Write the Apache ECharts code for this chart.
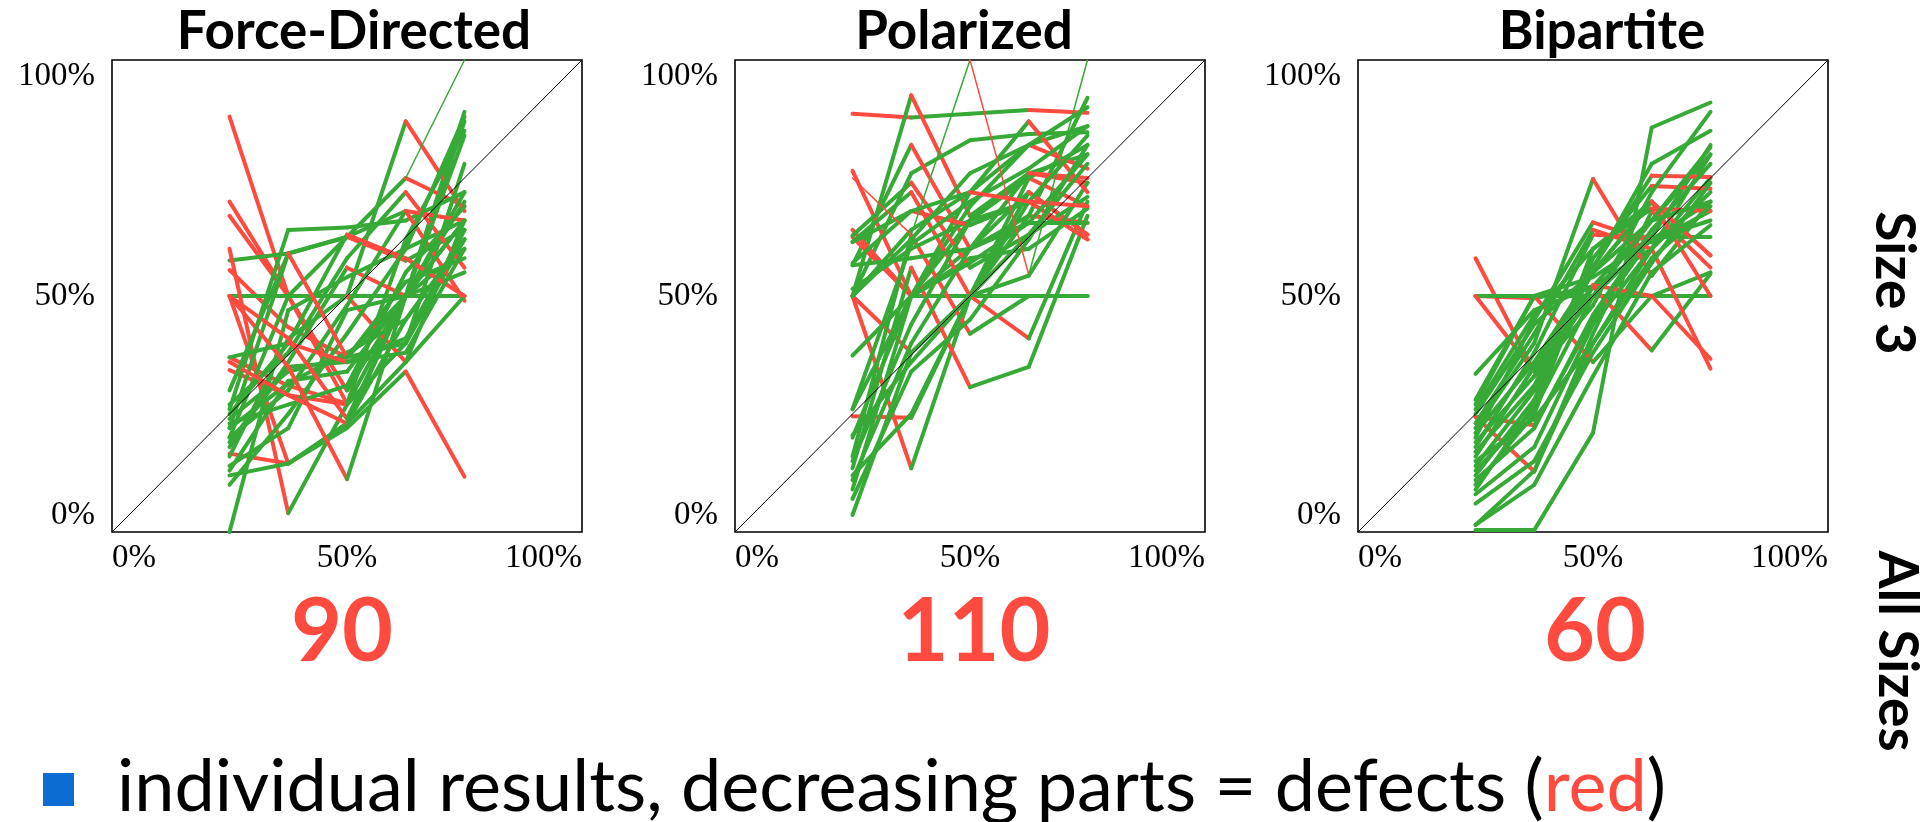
<!DOCTYPE html>
<html><head><meta charset="utf-8">
<script src="https://cdn.jsdelivr.net/npm/echarts@6/dist/echarts.min.js"></script>
<style>html,body{margin:0;padding:0;background:#fff}#c{width:1932px;height:822px}</style>
</head><body><div id="c"></div>
<script>
// ---------- data ----------
const panelTitles = ['Force-Directed', 'Polarized', 'Bipartite'];
const defectCounts = ['90', '110', '60'];
const xPositions = [0.25, 0.375, 0.5, 0.625, 0.75];
const diagonal = [[0, 0], [1, 1]];

// each row = one individual result, y value at the five x positions
const forceDirected = [
  [0.88, 0.50, 0.50, 0.50, 0.50],
  [0.70, 0.50, 0.272, 0.40, 0.62],
  [0.67, 0.50, 0.30, 0.50, 0.89],
  [0.575, 0.59, 0.625, 0.75, 0.69],
  [0.555, 0.434, 0.37, 0.50, 0.70],
  [0.50, 0.50, 0.50, 0.87, 0.68],
  [0.50, 0.145, 0.23, 0.36, 0.66],
  [0.60, 0.04, 0.27, 0.50, 0.60],
  [0.37, 0.31, 0.272, 0.62, 0.85],
  [0.343, 0.29, 0.27, 0.40, 0.78],
  [0.166, 0.145, 0.22, 0.34, 0.117],
  [0.26, 0.64, 0.645, 0.66, 0.72],
  [0.22, 0.59, 0.625, 0.68, 0.49],
  [0.20, 0.50, 0.625, 0.575, 0.64],
  [0.18, 0.36, 0.56, 0.50, 0.55],
  [0.16, 0.41, 0.50, 0.36, 0.50],
  [0.12, 0.145, 0.23, 0.50, 0.87],
  [0.13, 0.32, 0.34, 0.50, 0.72],
  [0.0, 0.47, 0.54, 0.60, 0.66],
  [0.24, 0.34, 0.37, 0.40, 0.64],
  [0.22, 0.315, 0.38, 0.45, 0.62],
  [0.27, 0.38, 0.58, 0.72, 0.56],
  [0.20, 0.30, 0.48, 0.68, 0.66],
  [0.14, 0.22, 0.47, 0.50, 0.84],
  [0.19, 0.35, 0.36, 0.41, 0.64],
  [0.25, 0.40, 0.63, 0.58, 0.50],
  [0.10, 0.25, 0.42, 0.60, 0.88],
  [0.50, 0.41, 0.24, 0.50, 0.66],
  [0.23, 0.27, 0.31, 0.55, 0.69],
  [0.36, 0.29, 0.23, 0.45, 0.62],
  [0.50, 0.35, 0.112, 0.50, 0.66],
  [0.30, 0.59, 0.37, 0.53, 0.58],
  [0.37, 0.40, 0.36, 0.38, 0.60]
];
const forceDirectedThin = [[null, null, null, 0.75, 1.0]];

const polarized = [
  [0.886, 0.878, 0.886, 0.894, 0.888],
  [0.50, 0.925, 0.67, 0.76, 0.80],
  [0.50, 0.76, 0.83, 0.843, 0.847],
  [0.565, 0.82, 0.60, 0.72, 0.63],
  [0.765, 0.50, 0.50, 0.50, 0.50],
  [0.64, 0.50, 0.60, 0.67, 0.655],
  [0.625, 0.50, 0.72, 0.82, 0.77],
  [0.50, 0.38, 0.50, 0.67, 0.92],
  [0.50, 0.135, 0.50, 0.75, 0.69],
  [0.245, 0.242, 0.50, 0.70, 0.62],
  [0.26, 0.50, 0.58, 0.60, 0.685],
  [0.205, 0.36, 0.50, 0.41, 0.70],
  [0.16, 0.628, 0.42, 0.50, 0.50],
  [0.135, 0.56, 0.307, 0.35, 0.67],
  [0.374, 0.50, 0.69, 0.82, 0.86],
  [0.09, 0.50, 0.66, 0.76, 0.74],
  [0.036, 0.38, 0.50, 0.72, 0.63],
  [0.615, 0.72, 0.50, 0.543, 0.74],
  [0.628, 0.74, 0.56, 0.63, 0.71],
  [0.515, 0.60, 0.66, 0.75, 0.82],
  [0.614, 0.68, 0.65, 0.70, 0.62],
  [0.565, 0.58, 0.60, 0.655, 0.655],
  [0.50, 0.64, 0.72, 0.87, 0.72],
  [0.20, 0.50, 0.57, 0.655, 0.80],
  [0.11, 0.40, 0.60, 0.76, 0.75],
  [0.12, 0.25, 0.50, 0.63, 0.78],
  [0.15, 0.44, 0.66, 0.70, 0.84],
  [0.26, 0.61, 0.70, 0.77, 0.86],
  [0.50, 0.62, 0.76, 0.82, 0.90],
  [0.07, 0.34, 0.45, 0.62, 0.82],
  [0.57, 0.68, 0.72, 0.70, 0.69]
];
const polarizedThin = [[0.75, 0.63, 1.0, 0.545, 1.0]];

const bipartite = [
  [0.58, 0.34, 0.50, 0.62, 0.70],
  [0.50, 0.495, 0.52, 0.66, 0.80],
  [0.50, 0.50, 0.50, 0.50, 0.50],
  [0.50, 0.34, 0.55, 0.70, 0.586],
  [0.244, 0.226, 0.45, 0.625, 0.82],
  [0.244, 0.128, 0.42, 0.68, 0.56],
  [0.004, 0.004, 0.21, 0.857, 0.91],
  [0.015, 0.13, 0.40, 0.60, 0.80],
  [0.335, 0.47, 0.52, 0.60, 0.75],
  [0.27, 0.50, 0.36, 0.50, 0.55],
  [0.22, 0.40, 0.748, 0.543, 0.70],
  [0.20, 0.45, 0.656, 0.614, 0.68],
  [0.18, 0.38, 0.63, 0.625, 0.625],
  [0.16, 0.35, 0.523, 0.50, 0.367],
  [0.14, 0.30, 0.52, 0.385, 0.547],
  [0.12, 0.28, 0.56, 0.755, 0.752],
  [0.10, 0.25, 0.58, 0.733, 0.727],
  [0.09, 0.27, 0.60, 0.70, 0.586],
  [0.26, 0.46, 0.60, 0.685, 0.68],
  [0.23, 0.42, 0.64, 0.60, 0.346],
  [0.21, 0.36, 0.55, 0.70, 0.50],
  [0.19, 0.33, 0.48, 0.72, 0.89],
  [0.17, 0.31, 0.56, 0.78, 0.85],
  [0.13, 0.26, 0.50, 0.66, 0.815],
  [0.11, 0.22, 0.46, 0.64, 0.78],
  [0.08, 0.18, 0.44, 0.60, 0.72],
  [0.25, 0.44, 0.55, 0.66, 0.70],
  [0.06, 0.15, 0.38, 0.57, 0.74],
  [0.015, 0.10, 0.33, 0.55, 0.65],
  [0.28, 0.50, 0.54, 0.62, 0.66],
  [0.15, 0.24, 0.40, 0.58, 0.69]
];
const bipartiteThin = [];

const sideLabels = ['Size 3', 'All Sizes'];
const footerText = ['individual results, decreasing parts = defects (', 'red', ')'];

// ---------- style / layout ----------
const GREEN = '#37a937', RED = '#ff4b3f', BLUE = '#0d6cd3';
const panels = [
  { rows: forceDirected, thin: forceDirectedThin, left: 112, titleX: 349, numX: 337 },
  { rows: polarized, thin: polarizedThin, left: 735, titleX: 959, numX: 969 },
  { rows: bipartite, thin: bipartiteThin, left: 1358, titleX: 1597, numX: 1590 }
];
const GW = 470, GTOP = 60, GH = 472;

function segments(rows, w) {
  const out = [];
  rows.forEach(r => {
    for (let i = 0; i < r.length - 1; i++) {
      if (r[i] == null || r[i + 1] == null) continue;
      out.push({
        coords: [[xPositions[i], r[i]], [xPositions[i + 1], r[i + 1]]],
        lineStyle: { color: r[i + 1] < r[i] ? RED : GREEN, width: w, opacity: 1, cap: 'round' }
      });
    }
  });
  return out;
}

const pct = v => Math.round(v * 100) + '%';
const grid = [], xAxis = [], yAxis = [], series = [], title = [];
panels.forEach((p, k) => {
  grid.push({ left: p.left, top: GTOP, width: GW, height: GH, show: true,
    borderColor: '#000', borderWidth: 1.6, backgroundColor: 'transparent', containLabel: false });
  const lab = { fontFamily: 'Liberation Serif', fontSize: 33, color: '#000', formatter: pct };
  xAxis.push({ gridIndex: k, type: 'value', min: 0, max: 1, interval: 0.5,
    axisLine: { show: false }, axisTick: { show: false }, splitLine: { show: false },
    axisLabel: Object.assign({ margin: 10, alignMinLabel: 'left', alignMaxLabel: 'right' }, lab) });
  yAxis.push({ gridIndex: k, type: 'value', min: 0, max: 1, interval: 0.5,
    axisLine: { show: false }, axisTick: { show: false }, splitLine: { show: false },
    axisLabel: Object.assign({ margin: 17, verticalAlignMinLabel: 'bottom', verticalAlignMaxLabel: 'top' }, lab) });
  series.push({ type: 'lines', coordinateSystem: 'cartesian2d', xAxisIndex: k, yAxisIndex: k,
    data: segments(p.rows, 4), lineStyle: { opacity: 1, curveness: 0, width: 4 }, silent: true, z: 2 });
  series.push({ type: 'lines', coordinateSystem: 'cartesian2d', xAxisIndex: k, yAxisIndex: k,
    data: segments(p.thin, 1.5), lineStyle: { opacity: 1, curveness: 0, width: 1.5 }, silent: true, z: 3 });
  series.push({ type: 'line', xAxisIndex: k, yAxisIndex: k, data: diagonal, symbol: 'none',
    lineStyle: { color: '#000', width: 1 }, silent: true, z: 5 });
  title.push({ text: panelTitles[k], left: p.titleX, top: 0, textAlign: 'center',
    textStyle: { fontFamily: 'Lato', fontWeight: 'bold', fontSize: 53, color: '#000' } });
  title.push({ text: defectCounts[k], left: p.numX, top: 584, textAlign: 'center',
    textStyle: { fontFamily: 'Lato', fontWeight: 'bold', fontSize: 88, color: RED } });
});

const chart = echarts.init(document.getElementById('c'), null, { renderer: 'canvas' });
chart.setOption({
  animation: false,
  backgroundColor: '#fff',
  title, grid, xAxis, yAxis, series,
  graphic: [
    { type: 'text', x: 1894, y: 283, rotation: -Math.PI / 2,
      style: { text: sideLabels[0], fontFamily: 'Lato', fontWeight: 'bold', fontSize: 55,
        fill: '#000', align: 'center', verticalAlign: 'middle' } },
    { type: 'text', x: 1897, y: 651, rotation: -Math.PI / 2,
      style: { text: sideLabels[1], fontFamily: 'Lato', fontWeight: 'bold', fontSize: 55,
        fill: '#000', align: 'center', verticalAlign: 'middle' } },
    { type: 'rect', shape: { x: 43, y: 773, width: 31, height: 33 }, style: { fill: BLUE } },
    { type: 'text', x: 117, y: 788,
      style: { text: '{a|' + footerText[0] + '}{r|' + footerText[1] + '}{a|' + footerText[2] + '}',
        verticalAlign: 'middle', align: 'left',
        rich: {
          a: { fontFamily: 'Lato', fontSize: 72, fill: '#000', color: '#000' },
          r: { fontFamily: 'Lato', fontSize: 72, fill: RED, color: RED }
        } } }
  ]
});
</script></body></html>
